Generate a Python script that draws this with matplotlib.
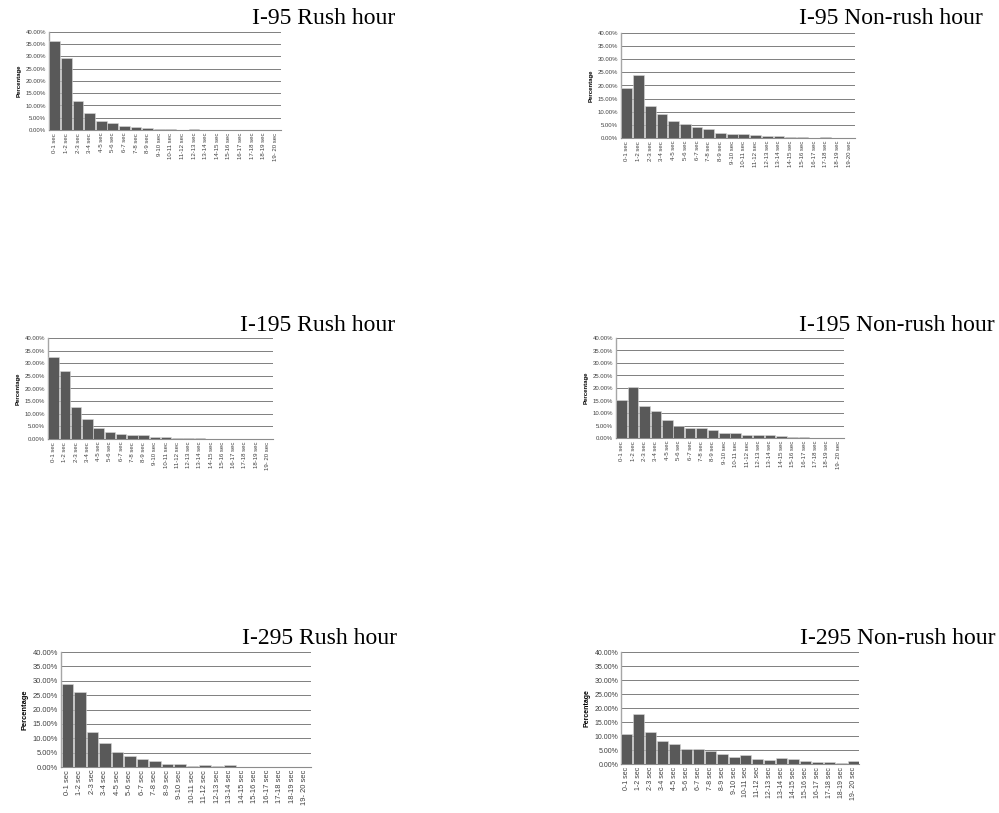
import matplotlib.pyplot as plt
import numpy as np

# interval labels (x axis) shared by all panels
BINS = ["0-1 sec", "1-2 sec", "2-3 sec", "3-4 sec", "4-5 sec", "5-6 sec",
        "6-7 sec", "7-8 sec", "8-9 sec", "9-10 sec", "10-11 sec", "11-12 sec",
        "12-13 sec", "13-14 sec", "14-15 sec", "15-16 sec", "16-17 sec",
        "17-18 sec", "18-19 sec", "19-20 sec"]

# percentages
i95_rush = [36.3, 29.5, 12.0, 6.9, 3.6, 2.7, 1.8, 1.3, 0.9, 0.6,
            0.3, 0.1, 0.3, 0.05, 0.0, 0.0, 0.0, 0.0, 0.0, 0.0]
i95_nonrush = [18.9, 23.9, 12.2, 9.0, 6.6, 5.3, 4.1, 3.3, 2.0, 1.4,
               1.7, 1.3, 0.9, 0.8, 0.4, 0.4, 0.1, 0.3, 0.05, 0.0]
i195_rush = [32.5, 26.9, 12.5, 8.1, 4.2, 2.6, 1.8, 1.5, 1.5, 0.8,
             0.8, 0.5, 0.3, 0.5, 0.0, 0.0, 0.0, 0.0, 0.0, 0.0]
i195_nonrush = [15.2, 20.3, 12.8, 11.0, 7.2, 5.0, 4.0, 3.9, 3.1, 2.1,
                2.0, 1.3, 1.2, 1.1, 0.8, 0.5, 0.5, 0.0, 0.0, 0.0]
i295_rush = [28.9, 26.2, 12.1, 8.2, 5.3, 3.7, 2.7, 2.2, 1.2, 1.0,
             0.5, 0.7, 0.5, 0.6, 0.0, 0.0, 0.0, 0.0, 0.0, 0.0]
i295_nonrush = [10.7, 18.0, 11.3, 8.3, 7.1, 5.2, 5.5, 4.5, 3.7, 2.6,
                3.1, 1.9, 1.3, 2.3, 1.8, 0.95, 0.7, 0.6, 0.25, 1.0]

TITLES = ["I-95 Rush hour", "I-95 Non-rush hour",
          "I-195 Rush hour", "I-195 Non-rush hour",
          "I-295 Rush hour", "I-295 Non-rush hour"]
SERIES = [i95_rush, i95_nonrush, i195_rush, i195_nonrush, i295_rush, i295_nonrush]
LAST_LABEL = ["19- 20 sec", "19-20 sec", "19- 20 sec", "19- 20 sec", "19- 20 sec", "19- 20 sec"]

W, H = 999, 813
# axes boxes in pixels: left, top, right, bottom
BOXES = [(49, 32, 281, 130), (621, 33, 855, 138),
         (48, 338, 273, 439), (616, 338, 844, 438),
         (61, 652, 311, 767), (621, 652, 859, 764)]
TITLE_POS = [(395, 18), (983, 18), (395, 325), (995, 325), (397, 638), (995, 638)]
TICK_FS = [4.3, 4.3, 4.3, 4.3, 5.4, 5.0]

fig = plt.figure(figsize=(W / 100, H / 100), dpi=100)
fig.patch.set_facecolor("white")

for k, (vals, title) in enumerate(zip(SERIES, TITLES)):
    l, t, r, b = BOXES[k]
    ax = fig.add_axes([l / W, 1 - b / H, (r - l) / W, (b - t) / H])
    x = np.arange(len(BINS))
    ax.bar(x, vals, width=0.92, color="#595959", edgecolor="#d9d9d9",
           linewidth=0.4, zorder=3)
    ax.set_xlim(-0.5, len(BINS) - 0.5)
    ax.set_ylim(0, 40)
    ax.set_yticks(np.arange(0, 41, 5))
    ax.set_yticklabels([f"{v:.2f}%" for v in np.arange(0, 41, 5)],
                       fontsize=TICK_FS[k], family="Liberation Sans", color="#404040")
    labels = BINS[:-1] + [LAST_LABEL[k]]
    ax.set_xticks(x)
    ax.set_xticklabels(labels, rotation=90, fontsize=TICK_FS[k],
                       family="Liberation Sans", color="#404040")
    ax.tick_params(length=0, pad=2)
    ax.grid(axis="y", color="#7f7f7f", lw=0.7, zorder=0)
    for s in ["top", "right"]:
        ax.spines[s].set_visible(False)
    ax.spines["left"].set_color("#a6a6a6")
    ax.spines["left"].set_linewidth(1.0)
    ax.spines["bottom"].set_color("#8c8c8c")
    ax.spines["bottom"].set_linewidth(0.8)
    ax.set_ylabel("Percentage", fontsize=TICK_FS[k], fontweight="bold",
                  family="Liberation Sans", labelpad=3)
    tx, ty = TITLE_POS[k]
    fig.text(tx / W, 1 - ty / H, title, ha="right", va="center",
             family="Liberation Serif", fontsize=17)

fig.savefig("out.png", dpi=100)
